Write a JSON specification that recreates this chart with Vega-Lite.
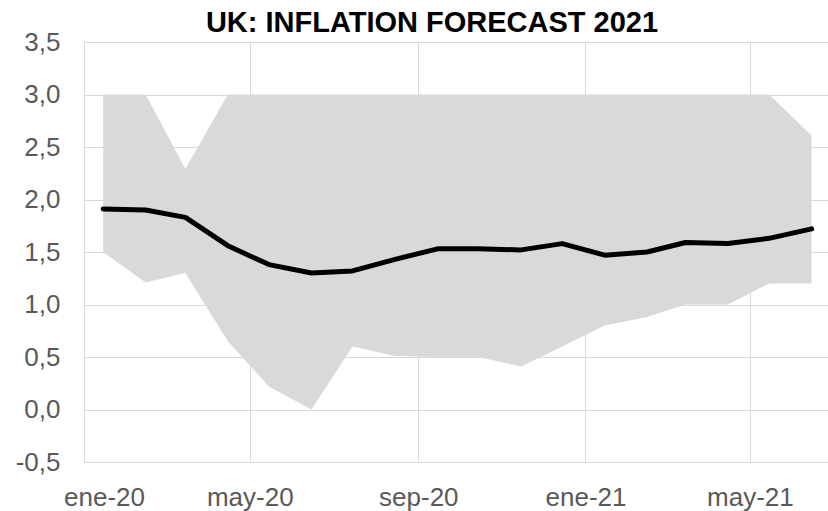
{
  "$schema": "https://vega.github.io/schema/vega-lite/v6.json",
  "width": 744,
  "height": 420,
  "autosize": {"type": "none"},
  "padding": {"left": 84, "top": 42, "right": 0, "bottom": 49},
  "background": "white",
  "title": {
    "text": "UK: INFLATION FORECAST 2021",
    "font": "Liberation Sans",
    "fontSize": 29,
    "fontWeight": "bold",
    "color": "#000000",
    "anchor": "middle",
    "dx": -24,
    "offset": -9
  },
  "data": {
    "values": [
      {"date": "2020-01-15", "low": 1.50, "high": 3.00, "avg": 1.91},
      {"date": "2020-02-15", "low": 1.21, "high": 3.00, "avg": 1.90},
      {"date": "2020-03-15", "low": 1.30, "high": 2.29, "avg": 1.83},
      {"date": "2020-04-15", "low": 0.65, "high": 3.00, "avg": 1.56},
      {"date": "2020-05-15", "low": 0.22, "high": 3.00, "avg": 1.38},
      {"date": "2020-06-15", "low": 0.00, "high": 3.00, "avg": 1.30},
      {"date": "2020-07-15", "low": 0.60, "high": 3.00, "avg": 1.32},
      {"date": "2020-08-15", "low": 0.51, "high": 3.00, "avg": 1.43},
      {"date": "2020-09-15", "low": 0.50, "high": 3.00, "avg": 1.53},
      {"date": "2020-10-15", "low": 0.50, "high": 3.00, "avg": 1.53},
      {"date": "2020-11-15", "low": 0.41, "high": 3.00, "avg": 1.52},
      {"date": "2020-12-15", "low": 0.60, "high": 3.00, "avg": 1.58},
      {"date": "2021-01-15", "low": 0.80, "high": 3.00, "avg": 1.47},
      {"date": "2021-02-15", "low": 0.88, "high": 3.00, "avg": 1.50},
      {"date": "2021-03-15", "low": 1.00, "high": 3.00, "avg": 1.59},
      {"date": "2021-04-15", "low": 1.00, "high": 3.00, "avg": 1.58},
      {"date": "2021-05-15", "low": 1.20, "high": 3.00, "avg": 1.63},
      {"date": "2021-06-15", "low": 1.20, "high": 2.61, "avg": 1.72}
    ]
  },
  "encoding": {
    "x": {
      "field": "date",
      "type": "temporal",
      "scale": {
        "type": "utc",
        "domain": [
          {"year": 2020, "month": 1, "date": 1, "utc": true},
          {"year": 2021, "month": 6, "date": 27, "utc": true}
        ]
      },
      "axis": {
        "title": null,
        "values": [
          {"year": 2020, "month": 1, "date": 1, "utc": true},
          {"year": 2020, "month": 5, "date": 1, "utc": true},
          {"year": 2020, "month": 9, "date": 1, "utc": true},
          {"year": 2021, "month": 1, "date": 1, "utc": true},
          {"year": 2021, "month": 5, "date": 1, "utc": true}
        ],
        "labelExpr": "['ene','feb','mar','abr','may','jun','jul','ago','sep','oct','nov','dic'][utcmonth(datum.value)] + '-' + utcFormat(datum.value, '%y')",
        "labelAlign": "center",
        "labelOffset": {"condition": {"test": "datum.index == 0", "value": 20}, "value": 0},
        "labelPadding": 22,
        "ticks": false,
        "domain": false,
        "grid": true,
        "gridColor": "#d9d9d9",
        "gridWidth": 1,
        "labelFlush": false,
        "labelOverlap": false
      }
    }
  },
  "layer": [
    {
      "mark": {"type": "area", "color": "#d9d9d9", "opacity": 1},
      "encoding": {
        "y": {
          "field": "low",
          "type": "quantitative",
          "scale": {"domain": [-0.5, 3.5], "nice": false, "zero": false},
          "axis": {
            "title": null,
            "values": [-0.5, 0, 0.5, 1, 1.5, 2, 2.5, 3, 3.5],
            "labelExpr": "(datum.value < 0 ? '-' : '') + replace(format(abs(datum.value), '.1f'), '.', ',')",
            "labelPadding": 24,
            "ticks": false,
            "domain": false,
            "grid": true,
            "gridColor": "#d9d9d9",
            "gridWidth": 1
          }
        },
        "y2": {"field": "high"}
      }
    },
    {
      "mark": {"type": "line", "color": "#000000", "strokeWidth": 5, "strokeCap": "round", "strokeJoin": "round"},
      "encoding": {
        "y": {"field": "avg", "type": "quantitative"}
      }
    }
  ],
  "config": {
    "view": {"stroke": "#d9d9d9"},
    "axis": {
      "labelFont": "Liberation Sans",
      "labelFontSize": 26,
      "labelColor": "#595959",
      "labelFontWeight": "normal"
    }
  }
}
